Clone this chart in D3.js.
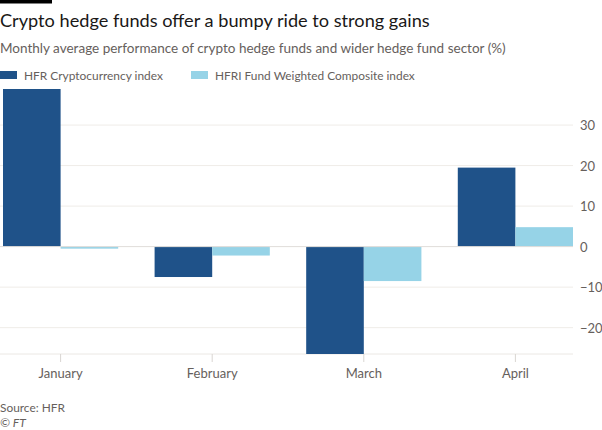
<!DOCTYPE html>
<html><head><meta charset="utf-8">
<script src="https://cdn.jsdelivr.net/npm/d3@7"></script>
<style>
html,body{margin:0;padding:0;background:#fff;}
svg{display:block;font-family:Lato,"Open Sans",sans-serif;}
</style></head>
<body><svg id="c" width="602" height="430"></svg>
<script>
const months = ["January","February","March","April"];
const seriesNames = ["HFR Cryptocurrency index","HFRI Fund Weighted Composite index"];
const cryptoValues = [38.9, -7.5, -26.5, 19.5];
const compositeValues = [-0.5, -2.2, -8.5, 4.8];
const yTicks = [-20,-10,0,10,20,30];
const colors = ["#1f5289","#96d3e7"];

const svg = d3.select("#c");
const textCol = "#66605c";

function fit(sel, target){
  const w = sel.node().getComputedTextLength();
  const fs = parseFloat(sel.attr("font-size"));
  sel.attr("font-size", (fs*target/w).toFixed(2));
  return sel;
}

svg.append("rect").attr("x",0).attr("y",0).attr("width",52).attr("height",3.5).attr("fill","#000");
fit(svg.append("text").attr("x",0).attr("y",27).attr("font-size",19).attr("fill","#1a1817")
  .text("Crypto hedge funds offer a bumpy ride to strong gains"), 430);
fit(svg.append("text").attr("x",0).attr("y",53).attr("font-size",14).attr("fill",textCol)
  .text("Monthly average performance of crypto hedge funds and wider hedge fund sector (%)"), 506);

const legX = [0,191];
const legW = [139, 200];
seriesNames.forEach((n,i)=>{
  svg.append("rect").attr("x",legX[i]).attr("y",71).attr("width",17).attr("height",8).attr("fill",colors[i]);
  fit(svg.append("text").attr("x",legX[i]+24).attr("y",79.5).attr("font-size",12).attr("fill",textCol).text(n), legW[i]);
});

const x0 = d3.scaleBand().domain(months).range([3,573]).paddingInner(0.24).paddingOuter(0);
const x1 = d3.scaleBand().domain([0,1]).range([0,x0.bandwidth()]);
const y = d3.scaleLinear().domain([-26.5,38.9]).range([354,89]);

const g = svg.append("g");
g.selectAll("line.grid").data(yTicks.filter(d=>d!==0)).join("line")
  .attr("x1",0).attr("x2",573).attr("y1",d=>y(d)).attr("y2",d=>y(d))
  .attr("stroke","#efece8").attr("stroke-width",1);
g.append("line").attr("x1",0).attr("x2",573).attr("y1",y(-26.5)).attr("y2",y(-26.5)).attr("stroke","#ebe8e4");

const yAxis = d3.axisRight(y).tickValues(yTicks).tickSize(0).tickPadding(0).tickFormat(d3.format("d"));
const ya = svg.append("g").attr("transform","translate(580,0)").call(yAxis);
ya.select(".domain").remove();
ya.selectAll("text").attr("font-size",13).attr("fill",textCol).attr("font-family","Lato, sans-serif").attr("dy","0.35em");

const data = months.map((m,i)=>({m, v:[cryptoValues[i], compositeValues[i]]}));
data.forEach(d=>{
  d.v.forEach((v,k)=>{
    g.append("rect").attr("x",x0(d.m)+x1(k)).attr("width",x1.bandwidth())
      .attr("y",y(Math.max(0,v))).attr("height",Math.abs(y(v)-y(0)))
      .attr("fill",colors[k]);
  });
});
g.append("line").attr("x1",0).attr("x2",573).attr("y1",y(0)).attr("y2",y(0)).attr("stroke","#e0ddd9");

const xAxis = d3.axisBottom(x0).tickSize(8).tickPadding(7);
const xa = svg.append("g").attr("transform",`translate(0,${y(-26.5)})`).call(xAxis);
xa.select(".domain").remove();
xa.selectAll("line").attr("stroke","#d9d6d2");
xa.selectAll(".tick").attr("transform",d=>`translate(${x0(d)+x0.bandwidth()/2},0)`);
xa.selectAll("text").attr("font-size",13).attr("fill",textCol).attr("font-family","Lato, sans-serif");

fit(svg.append("text").attr("x",0).attr("y",411.5).attr("font-size",13).attr("fill",textCol).text("Source: HFR"), 65);
svg.append("text").attr("x",0).attr("y",426.5).attr("font-size",12).attr("fill",textCol).attr("font-style","italic").text("© FT");
</script></body></html>
